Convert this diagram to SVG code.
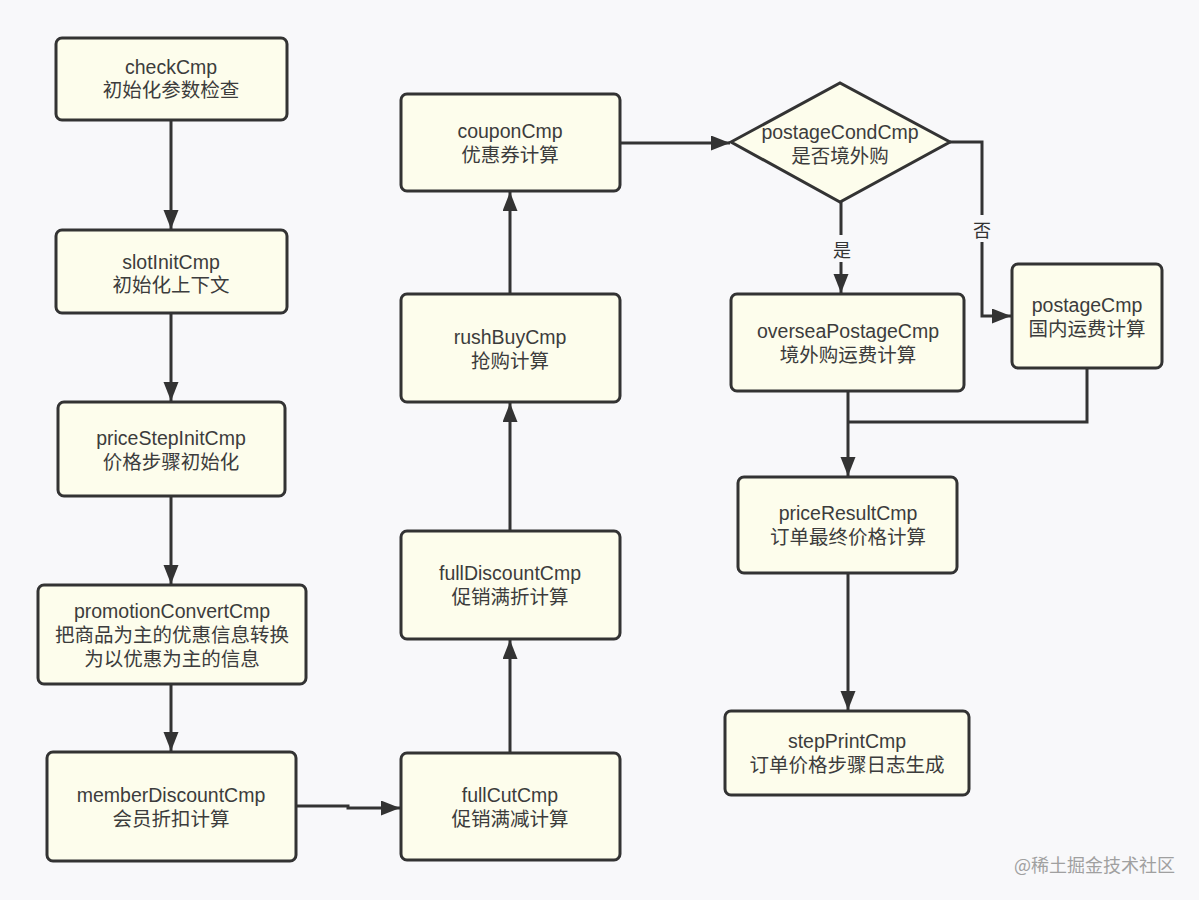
<svg xmlns="http://www.w3.org/2000/svg" width="1199" height="900" viewBox="0 0 1199 900">
<style>
.n{fill:#fdfdec;stroke:#333;stroke-width:3}
.t{font-family:"Liberation Sans","Noto Sans CJK SC",sans-serif;font-size:19.5px;fill:#3c3c3c;text-anchor:middle;dominant-baseline:central}
.c{fill:none;stroke:#333;stroke-width:3}
.lbl{font-family:"Noto Sans CJK SC",sans-serif;font-size:18px;fill:#333;text-anchor:middle;dominant-baseline:central}
.wm{font-family:"Noto Sans CJK SC",sans-serif;font-size:18px;fill:#a0a0a0}
</style>
<defs>
<marker id="a" markerUnits="userSpaceOnUse" markerWidth="20" markerHeight="16" refX="19" refY="7.5" orient="auto">
<path d="M0,0 L19,7.5 L0,15 z" fill="#333"/>
</marker>
</defs>
<rect width="1199" height="900" fill="#f8f8fa"/>
<g id="connectors">
<path class="c" d="M171,120 V229" marker-end="url(#a)"/>
<path class="c" d="M171,313 V401" marker-end="url(#a)"/>
<path class="c" d="M171,496 V584" marker-end="url(#a)"/>
<path class="c" d="M171,684 V751" marker-end="url(#a)"/>
<path class="c" d="M296,806 H348 V808 H400" marker-end="url(#a)"/>
<path class="c" d="M510,753 V640" marker-end="url(#a)"/>
<path class="c" d="M510,531 V403" marker-end="url(#a)"/>
<path class="c" d="M510,294 V192" marker-end="url(#a)"/>
<path class="c" d="M620,143 H730" marker-end="url(#a)"/>
<path class="c" d="M841,202 V235"/>
<path class="c" d="M841,262 V293" marker-end="url(#a)"/>
<text class="lbl" x="842" y="249">是</text>
<path class="c" d="M950,142 H982 V215"/>
<path class="c" d="M982,242 V316 H1011" marker-end="url(#a)"/>
<text class="lbl" x="982" y="229">否</text>
<path class="c" d="M848,391 V476" marker-end="url(#a)"/>
<path class="c" d="M1087,368 V422 H848"/>
<path class="c" d="M848,573 V710" marker-end="url(#a)"/>
</g>
<g id="checkCmp"><rect class="n" x="56" y="38" width="231" height="82" rx="6"/><text class="t" x="171" y="67">checkCmp</text><text class="t" x="171" y="90">初始化参数检查</text></g>
<g id="slotInitCmp"><rect class="n" x="56" y="230" width="231" height="83" rx="6"/><text class="t" x="171" y="262">slotInitCmp</text><text class="t" x="171" y="285">初始化上下文</text></g>
<g id="priceStepInitCmp"><rect class="n" x="58" y="402" width="227" height="94" rx="6"/><text class="t" x="171" y="438">priceStepInitCmp</text><text class="t" x="171" y="462">价格步骤初始化</text></g>
<g id="promotionConvertCmp"><rect class="n" x="38" y="585" width="268" height="99" rx="6"/><text class="t" x="172" y="611">promotionConvertCmp</text><text class="t" x="172" y="635">把商品为主的优惠信息转换</text><text class="t" x="172" y="659">为以优惠为主的信息</text></g>
<g id="memberDiscountCmp"><rect class="n" x="47" y="752" width="249" height="109" rx="6"/><text class="t" x="171" y="795">memberDiscountCmp</text><text class="t" x="171" y="819">会员折扣计算</text></g>
<g id="fullCutCmp"><rect class="n" x="401" y="753" width="219" height="107" rx="6"/><text class="t" x="510" y="795">fullCutCmp</text><text class="t" x="510" y="819">促销满减计算</text></g>
<g id="fullDiscountCmp"><rect class="n" x="401" y="531" width="219" height="108" rx="6"/><text class="t" x="510" y="573">fullDiscountCmp</text><text class="t" x="510" y="597">促销满折计算</text></g>
<g id="rushBuyCmp"><rect class="n" x="401" y="294" width="219" height="108" rx="6"/><text class="t" x="510" y="337">rushBuyCmp</text><text class="t" x="510" y="361">抢购计算</text></g>
<g id="couponCmp"><rect class="n" x="401" y="94" width="219" height="97" rx="6"/><text class="t" x="510" y="131">couponCmp</text><text class="t" x="510" y="155">优惠券计算</text></g>
<g id="postageCondCmp"><polygon class="n" points="731,142 840,83 950,142 840,202"/><text class="t" x="840" y="132">postageCondCmp</text><text class="t" x="840" y="156">是否境外购</text></g>
<g id="overseaPostageCmp"><rect class="n" x="731" y="294" width="233" height="97" rx="6"/><text class="t" x="848" y="331">overseaPostageCmp</text><text class="t" x="848" y="355">境外购运费计算</text></g>
<g id="postageCmp"><rect class="n" x="1012" y="264" width="150" height="104" rx="6"/><text class="t" x="1087" y="305">postageCmp</text><text class="t" x="1087" y="329">国内运费计算</text></g>
<g id="priceResultCmp"><rect class="n" x="738" y="477" width="219" height="96" rx="6"/><text class="t" x="848" y="513">priceResultCmp</text><text class="t" x="848" y="537">订单最终价格计算</text></g>
<g id="stepPrintCmp"><rect class="n" x="725" y="711" width="244" height="84" rx="6"/><text class="t" x="847" y="741">stepPrintCmp</text><text class="t" x="847" y="765">订单价格步骤日志生成</text></g>
<text class="wm" x="1014" y="872">@稀土掘金技术社区</text>
</svg>
